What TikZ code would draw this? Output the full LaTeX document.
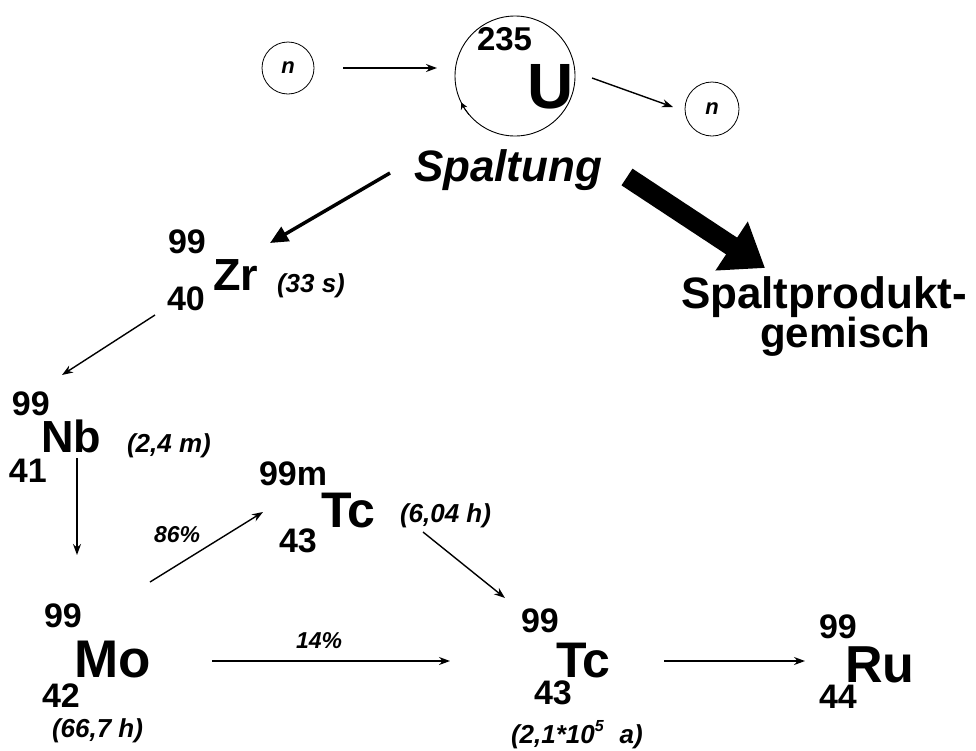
\documentclass[tikz,border=0pt]{standalone}
\usepackage{fontspec}
\setmainfont{Liberation Sans}
\usetikzlibrary{arrows.meta}
\newcommand{\fs}[1]{\fontsize{#1}{#1}\selectfont}
\begin{document}
\begin{tikzpicture}[x=1pt,y=-1pt,
  txt/.style={inner sep=0pt,outer sep=0pt,anchor=base west,font=\bfseries},
  sym/.style={txt,font=\bfseries\fs{45}},
  bigsym/.style={txt,font=\bfseries\fs{50}},
  num/.style={txt,font=\bfseries\fs{34}},
  hl/.style={txt,font=\bfseries\itshape\fs{26}},
  pct/.style={txt,font=\bfseries\itshape\fs{23}},
  neut/.style={circle,draw,line width=0.8pt,inner sep=0pt,font=\bfseries\itshape\fs{22}},
  arr/.style={line width=1.4pt,-{Stealth[length=11pt,width=8pt]}},
]
\useasboundingbox (0,0) rectangle (976,750);
\fill[white] (0,0) rectangle (976,750);

% fission
\node[neut,minimum size=52pt] (nL) at (288,68) {n};
\node[circle,draw,line width=0.9pt,minimum size=120pt,inner sep=0pt] (Uc) at (515,76) {};
\node[neut,minimum size=54pt] (nR) at (712,109) {n};
\node[txt,font=\bfseries\fs{33}] (U235) at (477,50) {235};
\node[txt,font=\bfseries\fs{64}] (U) at (527,108) {U};
\draw[line width=0.9pt,-{Stealth[length=7pt,width=7pt]}] ([shift={(140:60)}]Uc.center) arc[start angle=140,end angle=154,radius=60];
\node[txt,font=\bfseries\itshape\fs{44}] (spalt) at (414,181) {Spaltung};
\node[txt,font=\bfseries\fs{44}] (gem) at (681,308) {Spaltprodukt-};
\node[txt,font=\bfseries\fs{42}] (gem2) at (760,347) {gemisch};

% Zr
\node[num] (zr99) at (168,253) {99};
\node[sym] (zr) at (213,290) {Zr};
\node[num] (zr40) at (167,310) {40};
\node[hl] (zrhl) at (277,292) {(33 s)};
% Nb
\node[num] (nb99) at (12,415) {99};
\node[sym] (nb) at (41,452) {Nb};
\node[num] (nb41) at (9,482) {41};
\node[hl] (nbhl) at (127,452) {(2,4 m)};
% Tc-99m
\node[num] (tcm99) at (259,485) {99m};
\node[bigsym] (tcm) at (321,527) {Tc};
\node[num] (tcm43) at (279,552) {43};
\node[hl] (tcmhl) at (400,522) {(6,04 h)};
% Mo
\node[num] (mo99) at (44,627) {99};
\node[bigsym,font=\bfseries\fs{53}] (mo) at (74,677) {Mo};
\node[num] (mo42) at (42,707) {42};
\node[hl] (mohl) at (52,737) {(66,7 h)};
% Tc-99
\node[num] (tc99) at (521,632) {99};
\node[bigsym] (tc) at (556,677) {Tc};
\node[num] (tc43) at (534,704) {43};
\node[hl] (tchl) at (511,743) {(2,1*10\raisebox{12pt}{\fs{16}5}\,\, a)};
% Ru
\node[num] (ru99) at (819,638) {99};
\node[bigsym,font=\bfseries\fs{52}] (ru) at (845,682) {Ru};
\node[num] (ru44) at (819,708) {44};

\node[pct] (p86) at (154,542) {86\%};
\node[pct] (p14) at (296,648) {14\%};

% connectors
\draw[arr] ([shift={(55,0)}]nL.center) -- ([shift={(-78,-8)}]Uc.center);
\draw[arr] ([shift={(77,2)}]Uc.center) -- ([shift={(-39,-2)}]nR.center);
\draw[line width=3.5pt,-{Triangle[length=18pt,width=16pt]}] ([shift={(-24,-8)}]spalt.base west) -- ([shift={(57,-47)}]zr.base west);
\draw[line width=20pt,-{Triangle[length=40pt,width=56pt]}] ([shift={(213,-4)}]spalt.base west) -- ([shift={(84,-40)}]gem.base west);
\draw[arr] ([shift={(-58,25)}]zr.base west) -- ([shift={(21,-77)}]nb.base west);
\draw[arr] ([shift={(36,6)}]nb.base west) -- ([shift={(3,-122)}]mo.base west);
\draw[arr] ([shift={(76,-95)}]mo.base west) -- ([shift={(-58,-15)}]tcm.base west);
\draw[arr] ([shift={(138,-16)}]mo.base west) -- ([shift={(-106,-16)}]tc.base west);
\draw[arr] ([shift={(102,5)}]tcm.base west) -- ([shift={(-51,-79)}]tc.base west);
\draw[arr] ([shift={(108,-16)}]tc.base west) -- ([shift={(-40,-21)}]ru.base west);
\end{tikzpicture}
\end{document}
